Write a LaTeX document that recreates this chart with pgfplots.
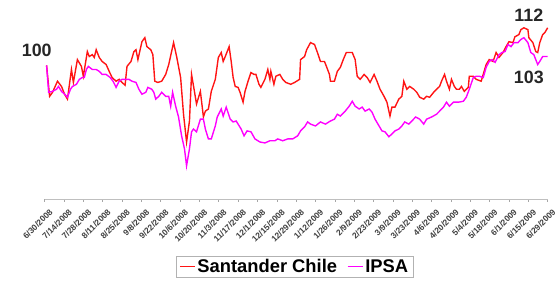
\documentclass[border=0pt]{standalone}
\usepackage{pgfplots}
\pgfplotsset{compat=1.18}
\usepackage{pgfplotstable}
\usepackage{fontspec}
\setmainfont{Liberation Sans}
\definecolor{sred}{RGB}{255,20,20}
\definecolor{smag}{RGB}{255,0,255}

\pgfplotstableread{
d v
1.4 100.0
3.6 90.0
5.7 91.3
9.3 94.9
12.2 93.2
14.4 90.7
16.5 89.1
19.4 98.7
20.8 94.5
23.7 101.9
26.6 99.7
28.0 96.5
30.9 104.5
32.3 102.9
34.5 103.5
35.9 102.6
37.3 105.1
39.5 102.6
41.6 101.3
44.5 100.3
46.7 98.1
48.8 96.1
51.7 94.9
53.9 95.5
56.0 94.5
58.2 93.6
59.6 99.7
62.5 101.3
64.6 104.5
66.1 105.1
67.5 101.9
69.6 106.1
70.4 107.7
72.5 109.0
74.0 106.1
76.8 105.1
78.3 103.5
79.7 94.9
81.9 94.5
84.7 94.9
87.6 97.1
89.8 100.3
93.3 107.4
95.5 102.9
98.4 96.1
100.5 84.2
102.7 75.2
104.8 82.0
106.3 97.1
108.4 91.6
109.9 87.5
112.7 91.6
114.9 83.3
116.3 85.2
118.5 85.9
120.6 91.6
123.5 95.5
125.7 102.6
127.8 104.2
129.2 101.3
130.7 102.9
133.5 106.1
135.0 101.3
136.4 96.1
137.9 93.2
140.0 92.9
141.4 91.3
143.6 88.1
145.0 91.6
147.2 94.9
149.3 97.7
151.5 97.1
152.9 97.1
155.1 93.9
156.5 92.9
159.4 95.5
161.5 98.7
163.0 95.5
163.7 98.1
165.9 93.9
167.3 96.5
170.2 97.1
172.3 95.5
174.5 94.5
178.1 93.9
180.9 94.5
184.5 95.5
185.2 101.9
188.1 102.9
189.6 105.1
192.4 107.4
195.3 106.8
197.4 104.2
199.6 101.3
202.5 101.3
203.9 99.7
206.1 97.1
206.8 94.9
209.7 94.9
211.8 98.1
214.0 99.4
216.1 101.9
218.3 104.2
222.6 104.2
224.7 101.9
226.2 96.5
228.3 95.5
231.2 97.1
233.4 96.1
235.5 94.5
238.4 97.1
240.5 94.9
242.7 92.3
245.6 90.0
247.7 88.1
249.9 83.6
251.3 86.5
253.5 86.5
256.3 89.1
258.5 90.0
259.9 94.9
262.1 92.3
264.2 93.2
267.1 92.3
269.3 91.3
271.4 89.7
274.3 89.1
276.4 90.0
278.6 89.7
281.5 91.3
283.6 92.3
285.8 93.2
287.2 94.9
289.4 97.1
290.8 94.9
292.9 92.3
294.4 95.5
296.5 93.2
298.0 92.3
300.1 92.3
301.6 93.2
303.7 91.6
306.6 92.9
307.3 96.5
310.2 96.5
312.3 95.5
315.9 94.9
319.5 100.3
321.7 101.9
324.5 101.3
326.7 104.2
328.8 102.6
331.7 104.2
333.9 106.1
336.0 107.7
338.9 107.4
340.3 109.3
343.2 110.0
344.6 111.6
346.8 112.2
349.7 111.6
350.4 109.0
353.3 107.4
355.4 104.5
356.8 104.2
358.3 107.4
360.4 110.0
361.9 110.6
364.0 112.2
}\santander

\pgfplotstableread{
d v
1.4 100.0
2.9 91.3
5.7 91.6
8.6 92.3
10.0 93.2
12.2 91.6
14.4 90.7
16.5 89.7
18.7 92.3
20.1 93.2
23.0 93.9
25.1 95.5
27.3 96.1
28.7 96.1
30.2 98.7
31.6 99.7
34.5 98.7
37.3 98.7
39.5 98.1
41.6 97.1
44.5 97.1
47.4 96.1
49.5 94.9
51.7 92.9
53.9 94.9
56.0 95.5
58.9 95.5
61.0 95.5
63.2 94.9
66.1 94.5
68.2 92.3
70.4 90.7
73.2 91.3
74.7 92.9
77.5 92.3
79.0 91.3
80.4 89.1
82.6 90.0
84.7 91.3
87.6 90.0
89.8 90.0
91.2 86.8
92.6 91.3
94.8 86.8
96.9 83.3
99.1 77.2
101.2 73.0
102.7 67.5
104.8 73.0
106.3 78.5
107.7 79.4
109.9 78.5
112.7 82.6
114.9 82.6
116.3 79.4
118.5 76.2
120.6 76.2
123.5 80.4
124.9 83.3
127.8 85.9
129.2 83.6
131.4 86.5
134.3 82.6
136.4 81.7
138.6 82.0
142.2 79.4
144.3 77.2
146.5 78.8
149.3 78.5
152.2 76.2
155.8 75.2
159.4 74.9
163.0 75.6
166.6 75.6
168.7 76.2
172.3 75.6
175.9 76.2
179.5 76.2
183.1 77.2
185.2 78.8
188.1 80.1
190.3 81.7
192.4 81.0
196.0 80.4
199.6 81.7
203.2 81.0
206.8 82.0
209.7 82.6
211.8 84.2
214.0 83.6
217.5 85.2
220.4 86.8
222.6 88.4
224.7 86.8
227.6 85.9
229.8 86.5
231.9 85.2
234.8 85.9
236.9 84.9
239.1 82.6
242.0 80.4
244.1 78.8
246.3 78.5
249.1 76.9
251.3 77.8
253.5 78.8
256.3 79.4
258.5 80.4
260.6 81.7
263.5 81.0
265.7 82.0
268.5 83.3
271.4 82.6
274.3 81.0
276.4 82.6
280.0 83.3
283.6 84.2
285.8 85.2
288.6 86.5
290.8 88.1
292.9 86.8
295.8 88.1
299.4 88.1
303.0 88.4
305.1 89.7
307.3 92.3
310.2 96.1
312.3 96.5
314.5 96.5
317.4 96.1
319.5 99.4
321.7 101.3
323.8 101.9
326.0 101.0
328.8 103.5
331.0 104.2
333.2 104.5
335.3 106.8
337.5 106.1
339.6 107.4
342.5 107.4
344.6 108.4
346.8 109.0
349.7 107.4
351.8 104.2
354.0 103.5
356.8 100.3
358.3 101.3
360.4 102.9
362.6 102.9
364.0 102.9
}\ipsa

\begin{document}
\begin{tikzpicture}
\begin{axis}[
  scale only axis,
  width=507pt, height=196pt,
  xmin=0, xmax=364,
  ymin=56.6, ymax=119.6,
  clip=false,
  hide y axis,
  axis x line=bottom,
  x axis line style={-, draw=black!25, line width=1pt},
  xtick={0,14,...,364},
  xticklabels={6/30/2008,7/14/2008,7/28/2008,8/11/2008,8/25/2008,9/8/2008,9/22/2008,10/6/2008,10/20/2008,11/3/2008,11/17/2008,12/1/2008,12/15/2008,12/29/2008,1/12/2009,1/26/2009,2/9/2009,2/23/2009,3/9/2009,3/23/2009,4/6/2009,4/20/2009,5/4/2009,5/18/2009,6/1/2009,6/15/2009,6/29/2009},
  tick align=outside,
  major tick length=2.5pt,
  tick style={draw=black!35, line width=0.6pt},
  x tick label style={rotate=45, anchor=north east, font=\fontsize{8.5}{9}\selectfont\bfseries, text=black!75, inner sep=0.5pt, xshift=-1pt, yshift=-7pt},
  legend style={at={(axis description cs:0.497,-0.291)}, anchor=north,
    draw=black!30, line width=0.8pt, inner xsep=3pt, inner ysep=1pt,
    font=\fontsize{18.5}{20}\selectfont\bfseries,
    /tikz/every even column/.append style={column sep=8pt}},
  legend columns=2,
  legend image code/.code={\draw[#1] (0pt,0pt) -- (15pt,0pt);},
]
\addplot[color=sred, draw=sred, line width=1.4pt] table[x=d, y=v] {\santander};
\addlegendentry{Santander Chile}
\addplot[color=smag, draw=smag, line width=1.4pt] table[x=d, y=v] {\ipsa};
\addlegendentry{IPSA}
\node[font=\fontsize{18}{20}\selectfont\bfseries, text=black!85] at (axis cs:-5.7,104.8) {100};
\node[font=\fontsize{18}{20}\selectfont\bfseries, text=black!85] at (axis cs:350.4,116.4) {112};
\node[font=\fontsize{18}{20}\selectfont\bfseries, text=black!85] at (axis cs:350.4,96.1) {103};
\coordinate (SW) at (rel axis cs:0,0);
\end{axis}
\path ([shift={(-45pt,-82pt)}]SW) rectangle ([shift={(512pt,201pt)}]SW);
\end{tikzpicture}
\end{document}
